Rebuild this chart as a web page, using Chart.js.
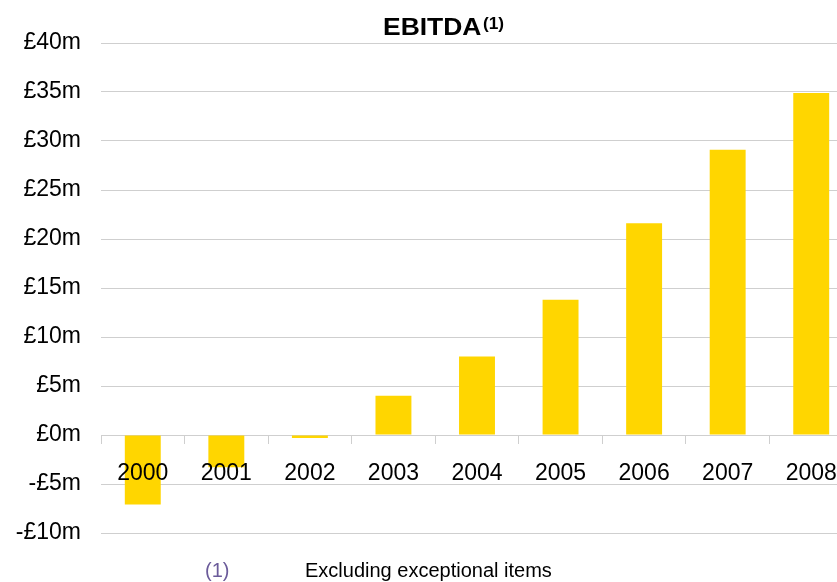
<!DOCTYPE html>
<html>
<head>
<meta charset="utf-8">
<script src="https://cdn.jsdelivr.net/npm/chart.js@4.4.1/dist/chart.umd.min.js"></script>
<style>
  html, body { margin: 0; padding: 0; background: #fff; overflow: hidden; }
  #wrap { position: absolute; left: 0; top: 0; width: 870px; height: 582px; }
  .note { position: absolute; top: 559px; font: 20px "Liberation Sans", Arial, sans-serif; }
  #note_num { left: 205px; color: #6b5b9a; }
  #note_txt { left: 305px; color: #000; }
</style>
</head>
<body>
<div id="wrap"><canvas id="ebitda_chart"></canvas></div>
<div class="note" id="note_num">(1)</div>
<div class="note" id="note_txt">Excluding exceptional items</div>

<script>
var years = ["2000", "2001", "2002", "2003", "2004", "2005", "2006", "2007", "2008"];
var ebitda = [-7.1, -3.3, -0.3, 4.0, 8.0, 13.8, 21.6, 29.1, 34.9];
var yTicks = [-10, -5, 0, 5, 10, 15, 20, 25, 30, 35, 40];

var FONT = '"Liberation Sans", Arial, sans-serif';

// title with a superscript footnote marker
var titlePlugin = {
  id: 'ebitdaTitle',
  afterDraw: function(chart) {
    var ctx = chart.ctx;
    ctx.save();
    ctx.fillStyle = '#000';
    ctx.textBaseline = 'alphabetic';
    ctx.font = 'bold 23px ' + FONT;
    ctx.translate(383, 35);
    ctx.scale(1.15, 1);
    ctx.fillText('EBITDA', 0, 0);
    ctx.restore();

    ctx.save();
    ctx.fillStyle = '#000';
    ctx.font = 'bold 16px ' + FONT;
    ctx.translate(483, 28.5);
    ctx.scale(1.08, 1);
    ctx.fillText('(1)', 0, 0);
    ctx.restore();
  }
};

var ctx = document.getElementById('ebitda_chart');
var chart = new Chart(ctx, {
  type: 'bar',
  data: {
    labels: years,
    datasets: [{
      data: ebitda,
      backgroundColor: '#ffd600',
      borderWidth: 0,
      barPercentage: 0.43,
      categoryPercentage: 1.0
    }]
  },
  options: {
    responsive: true,
    maintainAspectRatio: false,
    animation: false,
    layout: {
      padding: { left: 0, right: 17, top: 43, bottom: 49 }
    },
    plugins: {
      legend: { display: false },
      title: { display: false },
      tooltip: { enabled: false }
    },
    scales: {
      x: {
        position: { y: 0 },
        offset: true,
        grid: {
          drawOnChartArea: false,
          drawTicks: true,
          tickLength: 8,
          color: '#cfcfcf',
          offset: true
        },
        border: { display: true, color: '#cfcfcf', width: 1 },
        ticks: {
          z: 1, // year labels sit on top of the bars
          color: '#000',
          font: { family: FONT, size: 23 },
          padding: 17,
          maxRotation: 0,
          autoSkip: false
        }
      },
      y: {
        min: -10,
        max: 40,
        afterBuildTicks: function(axis) {
          axis.ticks = yTicks.map(function(v) { return { value: v }; });
        },
        afterFit: function(axis) {
          axis.width = 101;
        },
        grid: {
          color: '#cfcfcf',
          drawTicks: false
        },
        border: { display: false },
        ticks: {
          color: '#000',
          font: { family: FONT, size: 23 },
          padding: 20,
          callback: function(v) {
            return (v < 0 ? '-' : '') + '£' + Math.abs(v) + 'm';
          }
        }
      }
    }
  },
  plugins: [titlePlugin]
});
</script>
</body>
</html>
